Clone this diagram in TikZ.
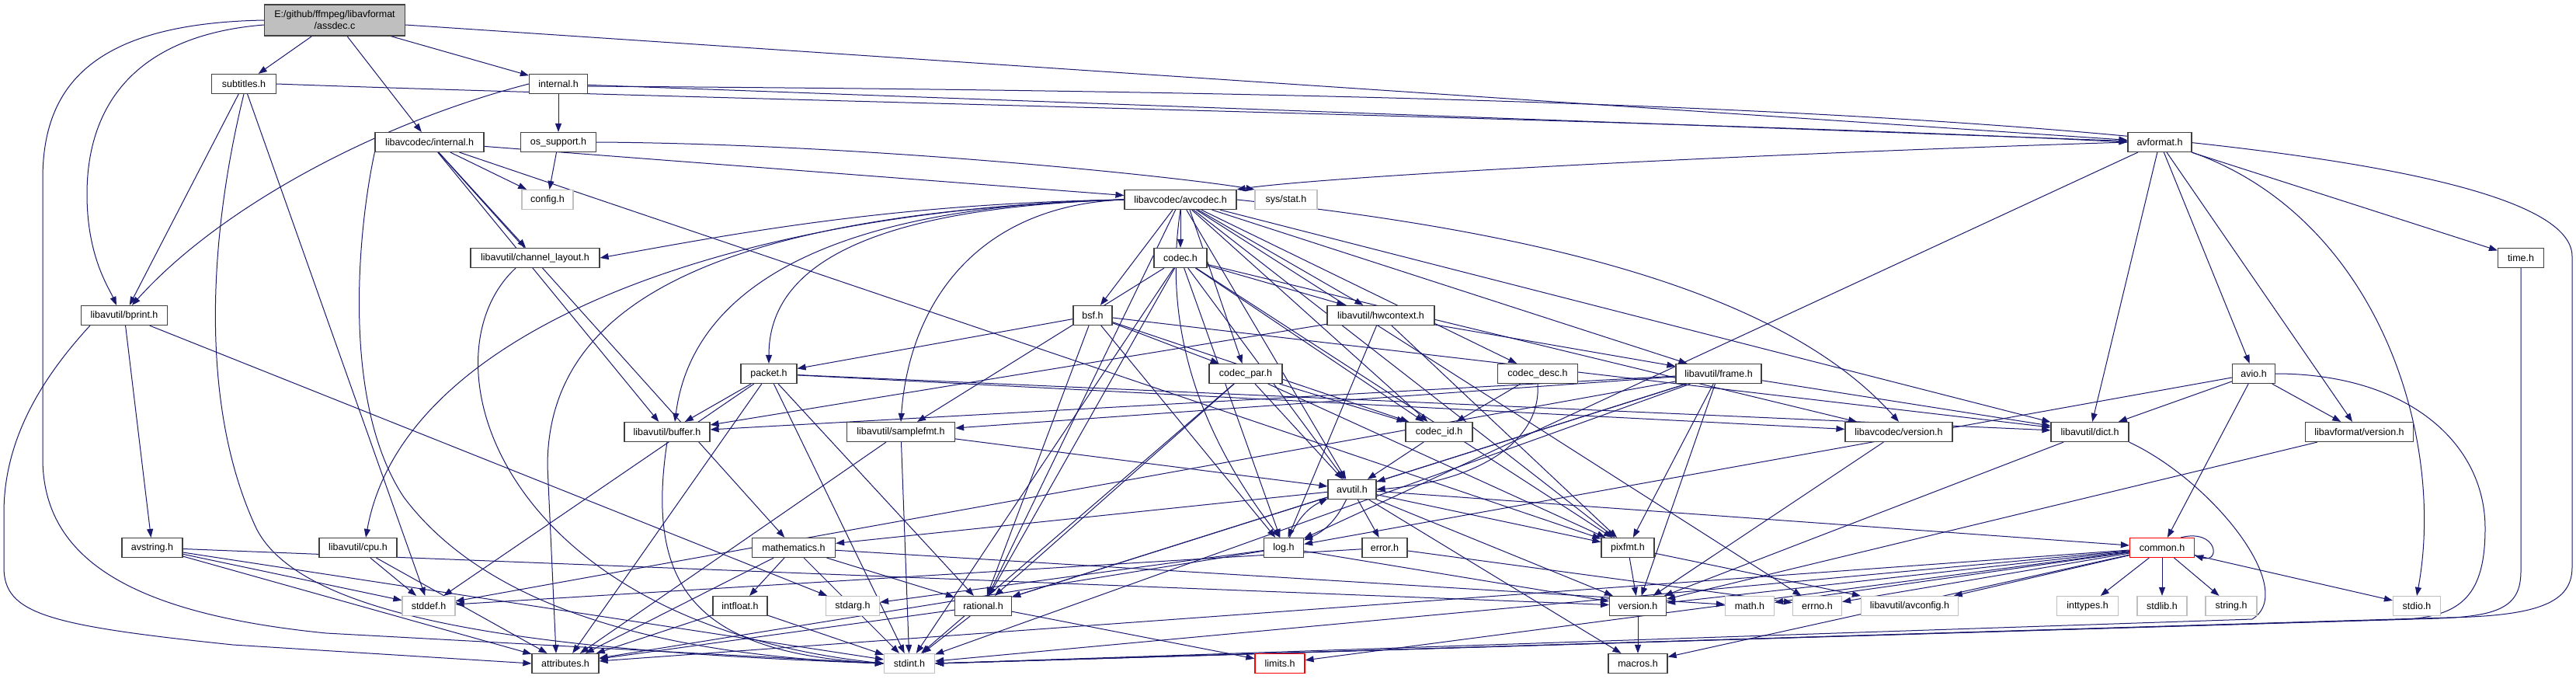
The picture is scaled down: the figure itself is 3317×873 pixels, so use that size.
\documentclass[tikz,border=0pt]{standalone}
\usepackage{fontspec}
\setmainfont{Liberation Sans}
\usepackage{xcolor}
\usetikzlibrary{arrows.meta}
\definecolor{edgeblue}{HTML}{191970}
\definecolor{nolink}{HTML}{BFBFBF}
\definecolor{srcfill}{HTML}{BFBFBF}
\definecolor{trunc}{HTML}{FF0000}
\pgfdeclarelayer{bg}
\pgfsetlayers{bg,main}

\begin{document}
\begin{tikzpicture}[x=1pt, y=-1pt,
  hdr/.style={draw=black!75, line width=1.2pt, fill=white, minimum height=25pt,
              inner sep=0pt, font=\fontsize{12.5}{15}\selectfont},
  sys/.style={hdr, draw=nolink},
  cut/.style={hdr, draw=trunc},
  dep/.style={draw=edgeblue, line width=1pt, -{Triangle[length=11pt,width=8pt]}}
]
\useasboundingbox (0,0) rectangle (3317,873);

% source file
\node[hdr, fill=srcfill, minimum width=181pt, minimum height=40pt, align=center] (assdec) at (431,26) {E:/github/ffmpeg/libavformat\\/assdec.c};

% row 1 - 4
\node[hdr, minimum width=83pt] (subtitles) at (314,108) {subtitles.h};
\node[hdr, minimum width=75pt] (internal) at (719,108) {internal.h};
\node[hdr, minimum width=140pt] (lavcinternal) at (553,183) {libavcodec/internal.h};
\node[hdr, minimum width=97pt] (ossupport) at (719,183) {os\_support.h};
\node[hdr, minimum width=82pt] (avformat) at (2781,183) {avformat.h};
\node[sys, minimum width=66pt] (config) at (705,257) {config.h};
\node[hdr, minimum width=144pt] (avcodec) at (1520,257) {libavcodec/avcodec.h};
\node[sys, minimum width=80pt] (sysstat) at (1656,257) {sys/stat.h};
\node[hdr, minimum width=166pt] (chlayout) at (689,332) {libavutil/channel\_layout.h};
\node[hdr, minimum width=68pt] (codec) at (1520,332) {codec.h};
\node[hdr, minimum width=59pt] (time) at (3246,332) {time.h};

% row 5 - 8
\node[hdr, minimum width=111pt] (bprint) at (160,406) {libavutil/bprint.h};
\node[hdr, minimum width=50pt] (bsf) at (1407,406) {bsf.h};
\node[hdr, minimum width=138pt] (hwcontext) at (1778,406) {libavutil/hwcontext.h};
\node[hdr, minimum width=72pt] (packet) at (990,481) {packet.h};
\node[hdr, minimum width=94pt] (codecpar) at (1604,481) {codec\_par.h};
\node[hdr, minimum width=103pt] (codecdesc) at (1980,481) {codec\_desc.h};
\node[hdr, minimum width=110pt] (frame) at (2213,481) {libavutil/frame.h};
\node[hdr, minimum width=55pt] (avio) at (2902,481) {avio.h};
\node[hdr, minimum width=110pt] (buffer) at (859,556) {libavutil/buffer.h};
\node[hdr, minimum width=139pt] (samplefmt) at (1160,556) {libavutil/samplefmt.h};
\node[hdr, minimum width=86pt] (codecid) at (1853,556) {codec\_id.h};
\node[hdr, minimum width=138pt] (lavcversion) at (2445,556) {libavcodec/version.h};
\node[hdr, minimum width=100pt] (dict) at (2691,556) {libavutil/dict.h};
\node[hdr, minimum width=139pt] (lavfversion) at (3038,556) {libavformat/version.h};
\node[hdr, minimum width=62pt] (avutil) at (1741,630) {avutil.h};

% row 9 - 11
\node[hdr, minimum width=78pt] (avstring) at (196,705) {avstring.h};
\node[hdr, minimum width=100pt] (cpu) at (461,705) {libavutil/cpu.h};
\node[hdr, minimum width=107pt] (mathematics) at (1022,705) {mathematics.h};
\node[hdr, minimum width=51pt] (log) at (1653,705) {log.h};
\node[hdr, minimum width=58pt] (error) at (1783,705) {error.h};
\node[hdr, minimum width=68pt] (pixfmt) at (2096,705) {pixfmt.h};
\node[cut, minimum width=83pt] (common) at (2784,705) {common.h};
\node[sys, minimum width=68pt] (stddef) at (552,780) {stddef.h};
\node[hdr, minimum width=70pt] (intfloat) at (953,780) {intfloat.h};
\node[sys, minimum width=69pt] (stdarg) at (1098,780) {stdarg.h};
\node[hdr, minimum width=73pt] (rational) at (1266,780) {rational.h};
\node[hdr, minimum width=73pt] (version) at (2109,780) {version.h};
\node[sys, minimum width=63pt] (math) at (2253,780) {math.h};
\node[sys, minimum width=63pt] (errno) at (2340,780) {errno.h};
\node[sys, minimum width=125pt] (avconfig) at (2459,780) {libavutil/avconfig.h};
\node[sys, minimum width=79pt] (inttypes) at (2688,780) {inttypes.h};
\node[sys, minimum width=64pt] (stdlib) at (2784,780) {stdlib.h};
\node[sys, minimum width=66pt] (string) at (2873,780) {string.h};
\node[sys, minimum width=61pt] (stdio) at (3112,780) {stdio.h};
\node[hdr, minimum width=86pt] (attributes) at (728,854) {attributes.h};
\node[sys, minimum width=65pt] (stdint) at (1171,854) {stdint.h};
\node[cut, minimum width=64pt] (limits) at (1648,854) {limits.h};
\node[hdr, minimum width=76pt] (macros) at (2109,854) {macros.h};

\begin{pgfonlayer}{bg}
\fill[white] (0,0) rectangle (3317,873);

% assdec.c
\path (assdec) edge[dep] (subtitles) edge[dep] (lavcinternal) edge[dep] (internal) edge[dep] (avformat);
\draw[dep] ([yshift=-6pt]assdec.west) .. controls (180,45) and (112,130) .. (112,250) .. controls (112,330) and (140,370) .. ([xshift=-10pt]bprint.north);
\draw[dep] (assdec.west) .. controls (120,30) and (55,110) .. (55,230) -- (55,590) .. controls (55,720) and (170,790) .. (420,815) -- (stdint.west);

% subtitles.h, internal.h
\path (subtitles) edge[dep] (bprint) edge[dep] (stddef);
\draw[dep] (subtitles.east) .. controls (900,128) and (2200,155) .. (avformat.west);
\draw[dep] (subtitles.south) .. controls (270,300) and (255,520) .. (330,680) .. controls (390,800) and (700,838) .. (stdint.west);
\path (internal) edge[dep] (ossupport) edge[dep] (avformat);
\draw[dep] (internal.west) .. controls (480,160) and (280,270) .. ([xshift=10pt]bprint.north);
\draw[dep] ([yshift=-3pt]internal.east) .. controls (1800,118) and (3312,140) .. (3312,330) -- (3312,730) .. controls (3312,775) and (3270,793) .. (3150,795) -- (stdint.east);

% libavcodec/internal.h, os_support.h
\path (lavcinternal) edge[dep] (config) edge[dep] (chlayout) edge[dep] (avcodec) edge[dep] (buffer) edge[dep] (mathematics) edge[dep] (pixfmt);
\draw[dep] (lavcinternal.south west) .. controls (460,300) and (440,520) .. (520,640) .. controls (640,800) and (900,845) .. (stdint.west);
\path (ossupport) edge[dep] (config);
\draw[dep] (ossupport.east) .. controls (1100,185) and (1500,225) .. (sysstat.north west);

% avformat.h
\path (avformat) edge[dep] (time) edge[dep] (dict) edge[dep] (log) edge[dep] (avio) edge[dep] (lavfversion);
\draw[dep] (avformat.west) .. controls (2200,200) and (1700,228) .. (avcodec.north east);
\draw[dep] (avformat.south east) .. controls (3060,280) and (3150,560) .. (stdio.north);

% libavcodec/avcodec.h
\path (avcodec) edge[dep] (codec) edge[dep] (bsf) edge[dep] (hwcontext) edge[dep] (codecdesc) edge[dep] (frame) edge[dep] (codecid) edge[dep] (avutil) edge[dep] (pixfmt) edge[dep] (rational) edge[dep] (errno) edge[dep] (dict);
\draw[dep] ([xshift=12pt]avcodec.south) -- (codecpar);
\draw[dep] (avcodec.south) .. controls (1500,400) and (1530,540) .. ([xshift=-5pt]log.north);
\draw[dep] (avcodec.east) .. controls (2000,300) and (2300,380) .. (lavcversion.north);
\draw[dep] (avcodec.west) .. controls (1250,265) and (1170,400) .. (samplefmt.north);
\draw[dep] (avcodec.west) .. controls (1100,268) and (990,350) .. (packet.north);
\draw[dep] (avcodec.west) .. controls (1050,265) and (890,380) .. ([xshift=10pt]buffer.north);
\draw[dep] (avcodec.west) .. controls (1150,262) and (950,300) .. (chlayout.east);
\draw[dep] (avcodec.west) .. controls (950,270) and (520,420) .. ([xshift=10pt]cpu.north);
\draw[dep] (avcodec.west) .. controls (900,275) and (705,400) .. (705,600) -- ([xshift=-12pt]attributes.north);

% codec.h, channel_layout.h, time.h
\path (codec) edge[dep] (stdint) edge[dep] (avutil) edge[dep] (hwcontext) edge[dep] (log) edge[dep] (pixfmt) edge[dep] (rational) edge[dep] (samplefmt) edge[dep] (codecid) edge[dep] (lavcversion);
\draw[dep] ([xshift=-25pt]chlayout.south) .. controls (540,460) and (640,800) .. (stdint.west);
\draw[dep] (time.south) -- (3246,735) .. controls (3246,780) and (3220,793) .. (3140,796) -- (stdint.east);

% bprint.h, bsf.h, hwcontext.h
\path (bprint) edge[dep] (avstring) edge[dep] (stdarg);
\draw[dep] ([xshift=12pt]bprint.south west) .. controls (60,480) and (5,560) .. (5,660) -- (5,730) .. controls (5,790) and (60,805) .. (300,830) -- (attributes.west);
\path (bsf) edge[dep] (packet) edge[dep] (codecpar) edge[dep] (codecid) edge[dep] (dict) edge[dep] (log) edge[dep] (rational);
\path (hwcontext) edge[dep] (buffer) edge[dep] (frame) edge[dep] (log) edge[dep] (pixfmt);

% packet.h, codec_par.h, codec_desc.h, frame.h, avio.h
\path (packet) edge[dep] (buffer) edge[dep] (stddef) edge[dep] (attributes) edge[dep] (rational) edge[dep] (stdint) edge[dep] (dict) edge[dep] (lavcversion);
\path (codecpar) edge[dep] (avutil) edge[dep] (rational) edge[dep] (pixfmt) edge[dep] (codecid) edge[dep] (stdint);
\path (codecdesc) edge[dep] (codecid);
\draw[dep] (codecdesc.south) .. controls (1985,570) and (1900,620) .. (avutil.east);
\path (frame) edge[dep] (avutil) edge[dep] (buffer) edge[dep] (dict) edge[dep] (rational) edge[dep] (samplefmt) edge[dep] (pixfmt) edge[dep] (version) edge[dep] (stddef) edge[dep] (stdint);
\path (avio) edge[dep] (dict) edge[dep] (lavfversion) edge[dep] (common) edge[dep] (log);
\draw[dep] (avio.east) .. controls (3100,481) and (3200,570) .. (3200,680) .. controls (3200,765) and (3170,792) .. (3100,797) -- (stdint.east);

% row 7 headers
\draw[dep] (buffer.south) .. controls (830,760) and (900,840) .. (stdint.west);
\path (samplefmt) edge[dep] (avutil) edge[dep] (attributes) edge[dep] (stdint);
\path (codecid) edge[dep] (avutil);
\path (lavcversion) edge[dep] (version);
\path (lavfversion) edge[dep] (version);
\path (dict) edge[dep] (version);
\draw[dep] (dict.south east) .. controls (2850,620) and (2960,760) .. (2900,797) -- (stdint.east);

% avutil.h and below
\path (avutil) edge[dep] (common) edge[dep] (error) edge[dep] (rational) edge[dep] (version) edge[dep] (macros) edge[dep] (mathematics) edge[dep] (pixfmt) edge[dep, bend left=20] (log);
\path (log) edge[dep, bend left=20] (avutil) edge[dep] (stdarg) edge[dep] (attributes) edge[dep] (version);
\path (avstring) edge[dep] (stddef) edge[dep] (stdint) edge[dep] (attributes) edge[dep] (version);
\path (cpu) edge[dep] (stddef) edge[dep] (attributes);
\path (mathematics) edge[dep] (intfloat) edge[dep] (rational) edge[dep] (stdint) edge[dep] (attributes) edge[dep] (math);
\path (error) edge[dep] (errno) edge[dep] (stddef);
\path (pixfmt) edge[dep] (version) edge[dep] (avconfig);
\path (common) edge[dep] (inttypes) edge[dep] (stdlib) edge[dep] (string) edge[dep] (stdio) edge[dep] (errno) edge[dep] (math) edge[dep] (avconfig) edge[dep] (version) edge[dep] (macros) edge[dep] (limits) edge[dep] (stdint) edge[dep] (attributes);
\draw[dep] ([xshift=-18pt]common.north east) .. controls (2855,680) and (2860,725) .. ([yshift=3pt]common.south east);
\path (intfloat) edge[dep] (stdint) edge[dep] (attributes);
\path (rational) edge[dep] (stdint) edge[dep] (limits) edge[dep] (attributes);
\path (version) edge[dep] (macros);
\end{pgfonlayer}
\end{tikzpicture}
\end{document}
